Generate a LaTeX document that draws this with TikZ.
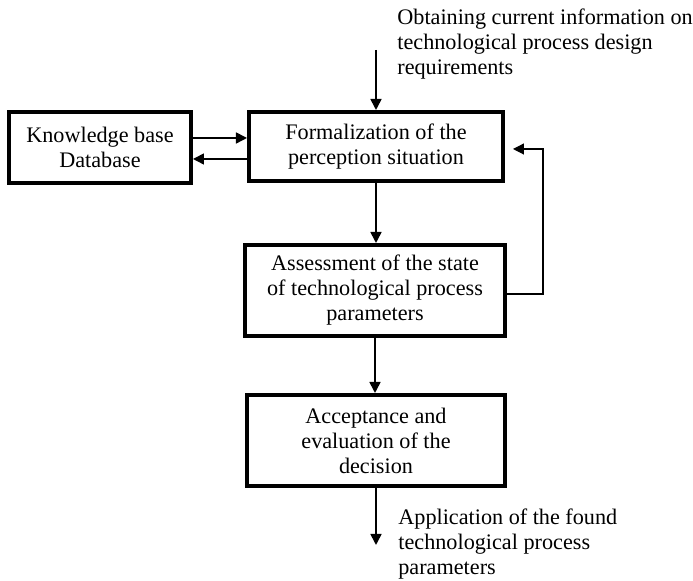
\documentclass[tikz,border=0pt]{standalone}
\usepackage{fontspec}
\setmainfont{Liberation Serif}
\usetikzlibrary{arrows.meta}

\tikzset{
    block/.style={draw, line width=2pt, align=center, inner sep=2pt},
    flow/.style={-{Triangle[length=5.5pt,width=5.5pt]}, line width=0.8pt},
}

\begin{document}
\begin{tikzpicture}[x=0.5pt, y=-0.5pt, font=\fontsize{11.1}{12.5}\selectfont] % pixel-like units
    % Canvas
    \useasboundingbox (0,0) rectangle (693,581);

    % Blocks
    \node[block, minimum width=91pt, minimum height=35.5pt] (kb) at (100,147.5) {Knowledge base\\Database};
    \node[block, minimum width=127pt, minimum height=34.5pt] (form) at (376,146.5) {Formalization of the\\perception situation};
    \node[block, minimum width=130pt, minimum height=45.5pt] (assess) at (375,290.5) {Assessment of the state\\of technological process\\parameters};
    \node[block, minimum width=129pt, minimum height=45.5pt] (accept) at (376,440.5) {Acceptance and\\evaluation of the\\decision};

    % Input and output texts
    \node[anchor=west, align=left, inner sep=0pt] (intext) at (397,44) {Obtaining current information on\\technological process design\\requirements};
    \node[anchor=west, align=left, inner sep=0pt] (outtext) at (398,544) {Application of the found\\technological process\\parameters};

    % Main flow
    \coordinate (src) at (376,50);
    \coordinate (sink) at (376,545);
    \draw[flow] (src) -- (src |- form.north);
    \draw[flow] (form.south) -- (form.south |- assess.north);
    \draw[flow] (assess.south) -- (assess.south |- accept.north);
    \draw[flow] (accept.south) -- (sink);

    % Knowledge base exchange
    \draw[flow] (kb.east |- 0,138) -- (form.west |- 0,138);
    \draw[flow] (form.west |- 0,159) -- (kb.east |- 0,159);

    % Feedback loop
    \coordinate (loop) at (543,294);
    \draw[flow, line width=0.6pt] (assess.east |- loop) -- (loop) |- ([xshift=4pt]form.east |- 0,149);
\end{tikzpicture}
\end{document}
